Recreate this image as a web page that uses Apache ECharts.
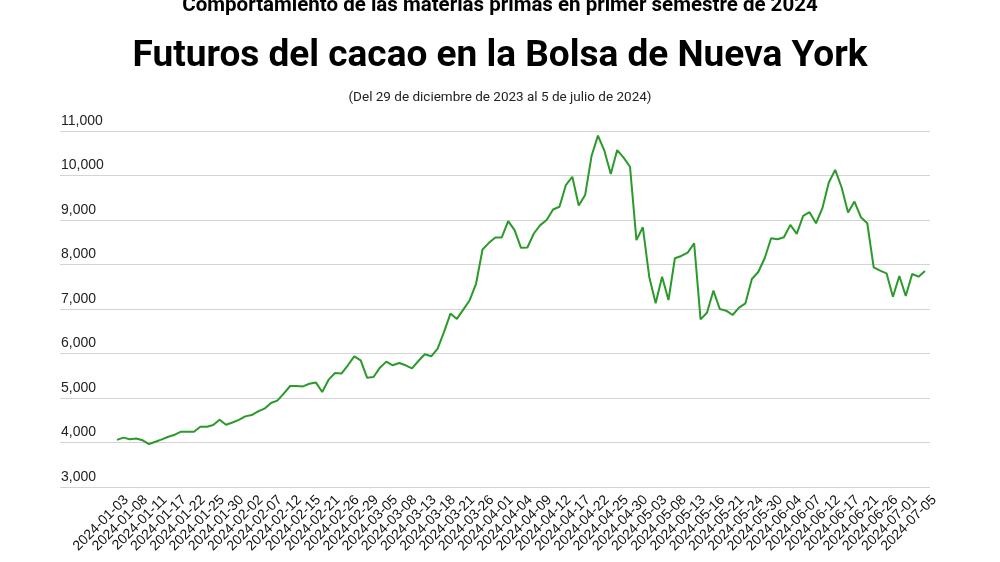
<!DOCTYPE html>
<html>
<head>
<meta charset="utf-8">
<title>Futuros del cacao</title>
<script src="https://cdn.jsdelivr.net/npm/echarts@6/dist/echarts.min.js"></script>
<style>
html, body { margin: 0; padding: 0; background: #fff; }
#container { width: 1000px; height: 562px; }
</style>
</head>
<body>
<div id="container"></div>
<script>
// Sesiones de la bolsa (ICE Nueva York), del 3 de enero al 5 de julio de 2024
var fechas = [
	'2024-01-03','2024-01-04','2024-01-05','2024-01-08','2024-01-09','2024-01-10','2024-01-11','2024-01-12','2024-01-16','2024-01-17',
	'2024-01-18','2024-01-19','2024-01-22','2024-01-23','2024-01-24','2024-01-25','2024-01-26','2024-01-29','2024-01-30','2024-01-31',
	'2024-02-01','2024-02-02','2024-02-05','2024-02-06','2024-02-07','2024-02-08','2024-02-09','2024-02-12','2024-02-13','2024-02-14',
	'2024-02-15','2024-02-16','2024-02-20','2024-02-21','2024-02-22','2024-02-23','2024-02-26','2024-02-27','2024-02-28','2024-02-29',
	'2024-03-01','2024-03-04','2024-03-05','2024-03-06','2024-03-07','2024-03-08','2024-03-11','2024-03-12','2024-03-13','2024-03-14',
	'2024-03-15','2024-03-18','2024-03-19','2024-03-20','2024-03-21','2024-03-22','2024-03-25','2024-03-26','2024-03-27','2024-03-28',
	'2024-04-01','2024-04-02','2024-04-03','2024-04-04','2024-04-05','2024-04-08','2024-04-09','2024-04-10','2024-04-11','2024-04-12',
	'2024-04-15','2024-04-16','2024-04-17','2024-04-18','2024-04-19','2024-04-22','2024-04-23','2024-04-24','2024-04-25','2024-04-26',
	'2024-04-29','2024-04-30','2024-05-01','2024-05-02','2024-05-03','2024-05-06','2024-05-07','2024-05-08','2024-05-09','2024-05-10',
	'2024-05-13','2024-05-14','2024-05-15','2024-05-16','2024-05-17','2024-05-20','2024-05-21','2024-05-22','2024-05-23','2024-05-24',
	'2024-05-28','2024-05-29','2024-05-30','2024-05-31','2024-06-03','2024-06-04','2024-06-05','2024-06-06','2024-06-07','2024-06-10',
	'2024-06-11','2024-06-12','2024-06-13','2024-06-14','2024-06-17','2024-06-18','2024-06-20','2024-06-21','2024-06-24','2024-06-25',
	'2024-06-26','2024-06-27','2024-06-28','2024-07-01','2024-07-02','2024-07-03','2024-07-05'
];

// Precio de cierre (dólares por tonelada)
var precios = [
	4060, 4110, 4075, 4090, 4050, 3966, 4018, 4070, 4130, 4175,
	4243, 4243, 4243, 4355, 4355, 4393, 4512, 4400, 4450, 4510,
	4587, 4617, 4700, 4760, 4887, 4940, 5100, 5270, 5270, 5260,
	5320, 5350, 5135, 5412, 5562, 5550, 5735, 5937, 5847, 5457,
	5472, 5682, 5817, 5735, 5787, 5735, 5667, 5832, 5982, 5937,
	6110, 6485, 6897, 6777, 6987, 7197, 7572, 8337, 8487, 8607,
	8607, 8975, 8772, 8375, 8382, 8697, 8885, 9000, 9237, 9297,
	9785, 9972, 9327, 9560, 10437, 10895, 10557, 10032, 10572, 10400,
	10197, 8547, 8837, 7720, 7127, 7727, 7202, 8140, 8192, 8267,
	8477, 6767, 6917, 7412, 7000, 6962, 6865, 7030, 7127, 7675,
	7832, 8140, 8590, 8567, 8612, 8890, 8687, 9092, 9175, 8927,
	9265, 9842, 10127, 9730, 9167, 9415, 9062, 8927, 7937, 7862,
	7802, 7277, 7742, 7292, 7787, 7727, 7855
];

var ejeY = { min: 3000, max: 11000, paso: 1000 };
var cadaCuantasFechas = 3; // una etiqueta cada tres sesiones

var textos = {
	antetitulo: 'Comportamiento de las materias primas en primer semestre de 2024',
	titulo: 'Futuros del cacao en la Bolsa de Nueva York',
	periodo: '(Del 29 de diciembre de 2023 al 5 de julio de 2024)'
};

drawChart();

function drawChart() {
	var myChart = echarts.init(document.getElementById('container'));
	myChart.setOption(getOption());
}

function getOption() {
	var option = {
		animation: false,
		backgroundColor: '#fff',
		textStyle: { fontFamily: 'Liberation Sans, Arial, sans-serif' },
		title: [
			{
				text: textos.antetitulo,
				left: 'center',
				top: -10,
				textStyle: { fontFamily: 'Roboto', fontSize: 20.5, fontWeight: 'bold', color: '#000' }
			},
			{
				text: textos.titulo,
				left: 'center',
				top: 33,
				textStyle: { fontFamily: 'Roboto', fontSize: 37, fontWeight: 'bold', color: '#000' }
			},
			{
				text: textos.periodo,
				left: 'center',
				top: 86,
				textStyle: { fontFamily: 'Roboto', fontSize: 13.5, fontWeight: 'normal', color: '#222' }
			}
		],
		// grid 0: lineas de referencia y etiquetas del eje Y; grid 1: la serie
		grid: [
			{ left: 60, right: 70, top: 131, bottom: 75 },
			{ left: 117, right: 75, top: 131, bottom: 75 }
		],
		xAxis: [
			{ type: 'value', gridIndex: 0, min: 0, max: 1, show: false },
			{
				type: 'category',
				gridIndex: 1,
				data: fechas,
				boundaryGap: false,
				axisLine: { show: false },
				axisTick: { show: false },
				axisLabel: {
					// interval 0 + formatter: evita que ECharts oculte la 2a y la penultima etiqueta
					interval: 0,
					formatter: function (value, index) {
						return index % cadaCuantasFechas === 0 ? value : '';
					},
					rotate: 45,
					margin: 20,
					padding: [0, -13, 0, 0],
					fontSize: 14,
					color: '#111'
				}
			}
		],
		yAxis: [
			{
				type: 'value',
				gridIndex: 0,
				min: ejeY.min,
				max: ejeY.max,
				interval: ejeY.paso,
				axisLine: { show: false },
				axisTick: { show: false },
				splitLine: { lineStyle: { color: '#d4d4d4', width: 1 } },
				axisLabel: {
					inside: true,
					margin: 1,
					verticalAlign: 'bottom',
					padding: [0, 0, 3, 0],
					fontSize: 14,
					color: '#222',
					formatter: function (v) {
						return v.toLocaleString('en-US');
					}
				}
			},
			{
				type: 'value',
				gridIndex: 1,
				min: ejeY.min,
				max: ejeY.max,
				show: false
			}
		],
		series: [
			{
				name: 'Cacao',
				type: 'line',
				xAxisIndex: 1,
				yAxisIndex: 1,
				data: precios,
				symbol: 'none',
				lineStyle: { color: '#2a9a2a', width: 2 }
			}
		]
	};
	return option;
}
</script>
</body>
</html>
